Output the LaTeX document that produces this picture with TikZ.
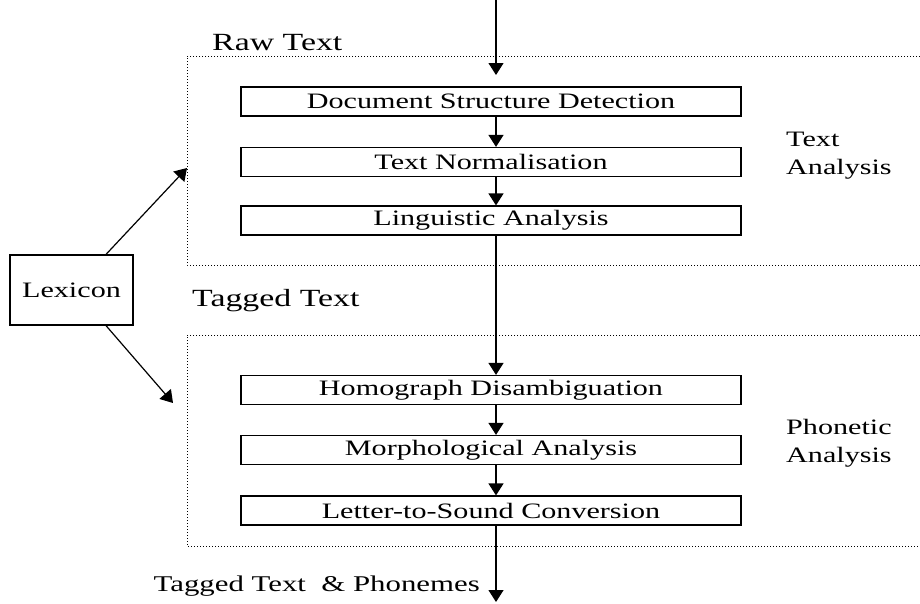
\documentclass[tikz,border=0pt]{standalone}
\usepackage{fontspec}
\setmainfont{Liberation Serif}[FakeStretch=1.37]
\usetikzlibrary{arrows.meta}
\begin{document}
\begin{tikzpicture}[x=1pt,y=-1pt,
  proc/.style={draw,line width=1.2pt,minimum width=500pt,minimum height=29pt,inner sep=0pt,font=\fontsize{22}{24}\selectfont},
  lbl/.style={inner sep=0pt,font=\fontsize{22}{24}\selectfont},
  big/.style={inner sep=0pt,font=\fontsize{24.7}{28}\selectfont},
  flow/.style={line width=1.2pt,-{Triangle[width=15pt,length=12pt]}},
  region/.style={line width=1pt,dash pattern=on 1pt off 2pt}]
\useasboundingbox (0,0) rectangle (920,603);

% dotted regions
\draw[region] (920,56) -- (187,56) -- (187,265) -- (920,265);
\draw[region] (920,335) -- (187,335) -- (187,546) -- (920,546);

% process boxes
\node[proc] (b1) at (491,101.5) {Document Structure Detection};
\node[proc] (b2) at (491,162) {Text Normalisation};
\node[proc] (b3) at (491,220.5) {Linguistic Analysis};
\node[proc] (b4) at (491,390) {Homograph Disambiguation};
\node[proc] (b5) at (491,450) {Morphological Analysis};
\node[proc] (b6) at (491,510.5) {Letter-to-Sound Conversion};

% lexicon
\node[draw,line width=1.2pt,minimum width=123pt,minimum height=70pt,inner sep=0pt,font=\fontsize{22}{24}\selectfont] (lex) at (71.5,290) {Lexicon};

% labels
\node[big,anchor=base west] (raw) at (212,50) {Raw Text};
\node[big,anchor=base west] (tag) at (192,306) {Tagged Text};
\node[lbl,anchor=base west] (ta1) at (786,146) {Text};
\node[lbl,anchor=base west] (ta2) at (786,174) {Analysis};
\node[lbl,anchor=base west] (pa1) at (786,434) {Phonetic};
\node[lbl,anchor=base west] (pa2) at (786,462) {Analysis};
\node[inner sep=0pt,anchor=base east,font=\fontsize{22.5}{26}\selectfont] (outl) at (480,591) {Tagged Text\ \ \& Phonemes};

% connectors
\coordinate (in) at (496,0);
\coordinate (inend) at (496,75);
\coordinate (out) at (496,602);
\coordinate (lt) at (187,168);
\coordinate (lb) at (173,403);
\draw[flow] (in) -- (inend);
\draw[flow] ([xshift=5pt]b1.south) -- ([xshift=5pt]b2.north);
\draw[flow] ([xshift=5pt]b2.south) -- ([xshift=5pt]b3.north);
\draw[flow] ([xshift=5pt]b3.south) -- ([xshift=5pt]b4.north);
\draw[flow] ([xshift=5pt]b4.south) -- ([xshift=5pt]b5.north);
\draw[flow] ([xshift=5pt]b5.south) -- ([xshift=5pt]b6.north);
\draw[flow] ([xshift=5pt]b6.south) -- (out);
\draw[flow] ([xshift=34.5pt]lex.north) -- (lt);
\draw[flow] ([xshift=34.5pt]lex.south) -- (lb);
\end{tikzpicture}
\end{document}
